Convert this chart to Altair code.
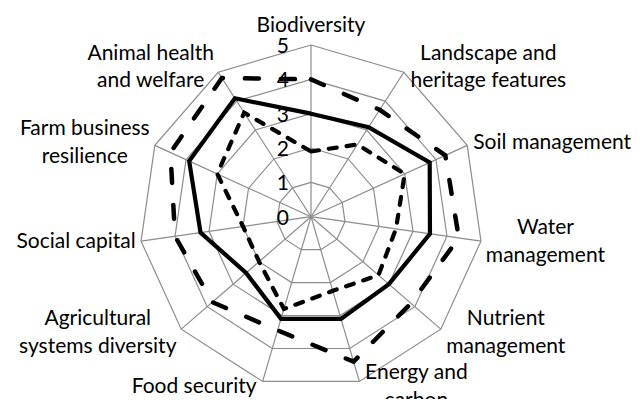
import altair as alt
import pandas as pd

# ---- data ----
categories = [
    "Biodiversity", "Landscape and heritage features", "Soil management",
    "Water management", "Nutrient management", "Energy and carbon",
    "Food security", "Agricultural systems diversity", "Social capital",
    "Farm business resilience", "Animal health and welfare",
]
label_text = [
    "Biodiversity", "Landscape and\nheritage features", "Soil management",
    "Water\nmanagement", "Nutrient\nmanagement", "Energy and\ncarbon",
    "Food security", "Agricultural\nsystems diversity", "Social capital",
    "Farm business\nresilience", "Animal health\nand welfare",
]
series_names = ["Series 1", "Series 2", "Series 3"]
long_dash_vals = [4.0, 3.7, 4.3, 4.35, 3.85, 4.4, 3.45, 3.8, 4.0, 4.5, 4.8]
solid_vals = [3.0, 3.1, 3.8, 3.5, 3.0, 3.1, 3.1, 2.5, 3.25, 3.9, 4.1]
short_dash_vals = [1.9, 2.5, 3.0, 2.5, 2.6, 2.25, 2.8, 2.0, 2.0, 3.0, 3.6]
levels = [0, 1, 2, 3, 4, 5]
tick_labels = ["0", "1", "2", "3", "4", "5"]

N = len(categories)

# ---- layout ----
W, H = 624, 391
K = 34.34            # pixels per unit
CX, CY = 303, 208.7  # centre inside the plot area
xs = alt.Scale(domain=[-CX / K, (W - CX) / K], nice=False, zero=False)
ys = alt.Scale(domain=[-(H - CY) / K, CY / K], nice=False, zero=False)
FONT = "Lato"
FS = 21
LH = 27.7
GAP = 6
GRID = "#8c8c8c"
# half of the widest line of each category label (px), so a label block can be
# centred while its near edge sits just outside the outer ring
label_half_width = [0, 78.5, 79, 58.5, 59, 51, 62.5, 77.5, 59, 64, 61.5]

ANG = f"datum.idx * 2 * PI / {N}"

series_rows = []
for name, vals in zip(series_names, [long_dash_vals, solid_vals, short_dash_vals]):
    for i in range(N + 1):
        series_rows.append({"series": name, "idx": i, "value": vals[i % N]})
series_df = pd.DataFrame(series_rows)

ring_rows = []
for lv in levels[1:]:
    for i in range(N + 1):
        ring_rows.append({"level": lv, "idx": i})
ring_df = pd.DataFrame(ring_rows)

spoke_df = pd.DataFrame({"idx": list(range(N)), "level": [levels[-1]] * N})
tick_df = pd.DataFrame({"level": levels, "label": tick_labels})
cat_df = pd.DataFrame({"idx": list(range(N)), "label": label_text, "cat": categories,
                       "hw": label_half_width})

X = lambda f: alt.X(f, scale=xs, axis=None)
Y = lambda f: alt.Y(f, scale=ys, axis=None)

rings = alt.Chart(ring_df).transform_calculate(a=ANG).transform_calculate(
    x="datum.level * sin(datum.a)", y="datum.level * cos(datum.a)"
).mark_line(color=GRID, strokeWidth=1.2).encode(
    x=X("x:Q"), y=Y("y:Q"), detail="level:N", order="idx:Q"
)

spokes = alt.Chart(spoke_df).transform_calculate(a=ANG).transform_calculate(
    x0="0", y0="0",
    x="datum.level * sin(datum.a)", y="datum.level * cos(datum.a)"
).mark_rule(color=GRID, strokeWidth=1.2).encode(
    x=X("x0:Q"), y=Y("y0:Q"), x2="x:Q", y2="y:Q"
)


def series_layer(name, **style):
    return alt.Chart(series_df).transform_filter(
        alt.datum.series == name
    ).transform_calculate(a=ANG).transform_calculate(
        x="datum.value * sin(datum.a)", y="datum.value * cos(datum.a)"
    ).mark_line(color="black", strokeJoin="miter", **style).encode(
        x=X("x:Q"), y=Y("y:Q"), order="idx:Q"
    )


s_long = series_layer(series_names[0], strokeWidth=4.5, strokeDash=[14, 22], strokeCap="round")
s_solid = series_layer(series_names[1], strokeWidth=4.2)
s_short = series_layer(series_names[2], strokeWidth=4.2, strokeDash=[8, 10], strokeCap="round")

ticks = alt.Chart(tick_df).transform_calculate(x="0", y="datum.level").mark_text(
    align="right", baseline="middle", dx=-22, dy=2, font=FONT, fontSize=FS, color="black"
).encode(x=X("x:Q"), y=Y("y:Q"), text="label:N")

half_line = 0.5 * LH / K
labels = alt.Chart(cat_df).transform_calculate(a=ANG).transform_calculate(
    s="sin(datum.a)", c="cos(datum.a)",
    two="indexof(datum.label, '\\n') >= 0 ? 1 : 0",
).transform_calculate(
    sg="datum.s > 0.01 ? 1 : (datum.s < -0.01 ? -1 : 0)",
).transform_calculate(
    x=f"5 * datum.s + datum.sg * ({GAP} + datum.hw) / {K}",
    y=f"(abs(datum.s) < 0.01 ? 5.55 : 5.16 * datum.c) + datum.two * {half_line}",
).mark_text(
    align="center", baseline="middle", font=FONT, fontSize=FS, color="black",
    lineBreak="\n", lineHeight=LH
).encode(x=X("x:Q"), y=Y("y:Q"), text="label:N")

chart = alt.layer(
    rings, spokes, s_long, s_solid, s_short, ticks, labels
).properties(
    width=W, height=H, autosize=alt.AutoSizeParams(type="none"), padding=0
).configure_view(stroke=None)

chart.save("out.html", embed_options={"renderer": "svg", "actions": False})
